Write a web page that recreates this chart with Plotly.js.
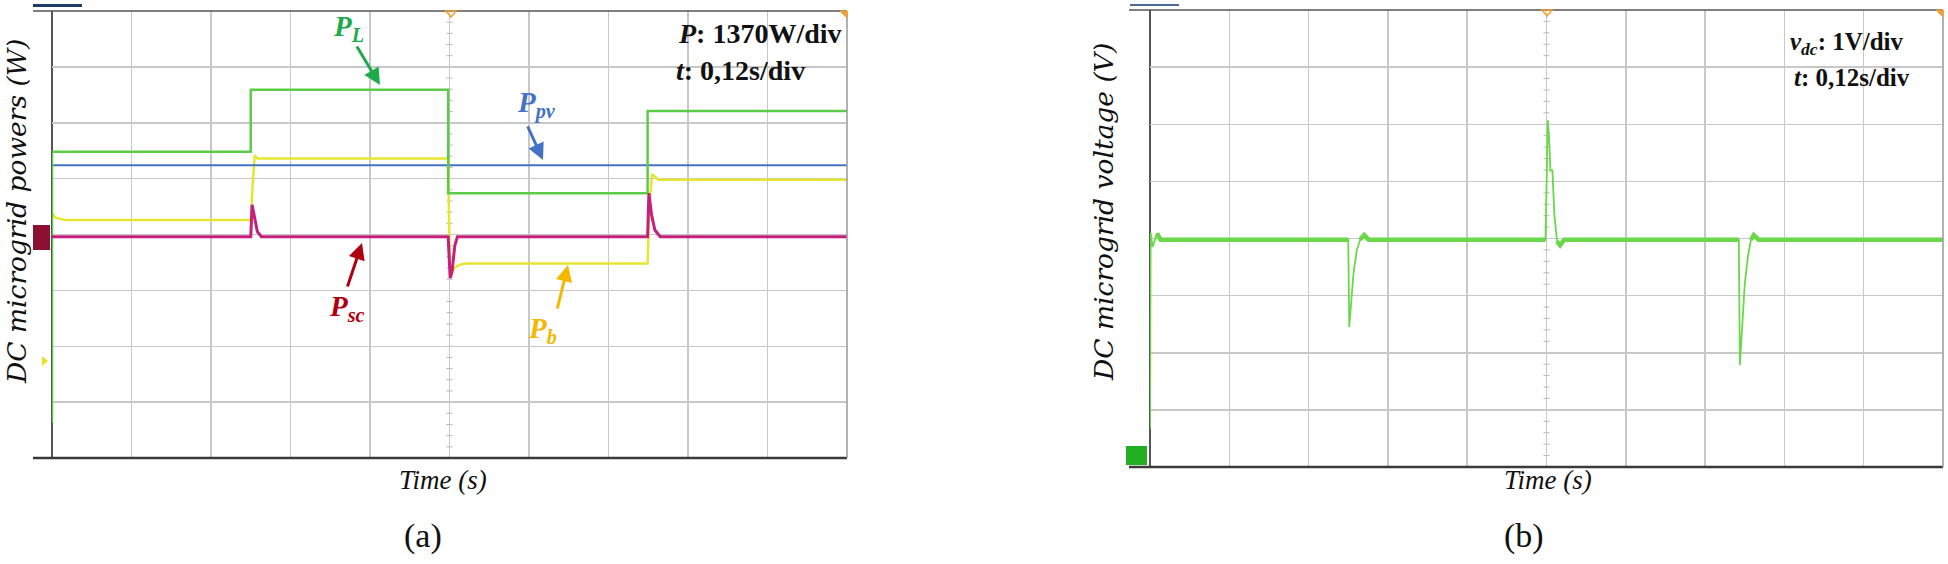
<!DOCTYPE html>
<html>
<head>
<meta charset="utf-8">
<script src="https://cdn.plot.ly/plotly-3.0.1.min.js"></script>
<style>
  html, body { margin: 0; padding: 0; background: #fff; }
  #chart { width: 1948px; height: 564px; }
</style>
</head>
<body>
<div id="chart"></div>
<script>
// scope settings
const T_DIV = 0.12;   // s/div, both panels
const P_DIV = 1370;   // W/div, panel (a)
const V_DIV = 1;      // V/div, panel (b)

// (a) load power P_L
const tL = [0, 0, 0.300, 0.300, 0.598, 0.598, 0.899, 0.899, 1.2];
const pL = [863, 7508, 7508, 9028, 9028, 6494, 6494, 8508, 8508];

// (a) PV power P_pv
const tPv = [0, 1.2];
const pPv = [7179, 7179];

// (a) battery power P_b
const tB = [0, 0.005, 0.020, 0.300, 0.303, 0.306, 0.310, 0.598, 0.600, 0.602, 0.607, 0.615, 0.625, 0.899, 0.902, 0.906, 0.915, 1.2];
const pB = [6001, 5891, 5836, 5836, 6713, 7425, 7343, 7343, 5206, 4439, 4658, 4740, 4768, 4768, 6302, 6960, 6823, 6823];

// (a) supercapacitor power P_sc
const tSc = [0, 0.300, 0.302, 0.306, 0.310, 0.316, 0.598, 0.601, 0.604, 0.608, 0.612, 0.899, 0.901, 0.905, 0.910, 0.918, 1.2];
const pSc = [5425, 5425, 6206, 5823, 5549, 5425, 5425, 4411, 4590, 5206, 5425, 5425, 6494, 5960, 5590, 5425, 5425];

// (b) DC bus voltage v_dc
const tV = [0, 0.001, 0.004, 0.0106, 0.016, 0.020, 0.300, 0.3015, 0.304, 0.308, 0.313, 0.318, 0.324, 0.331,
            0.5985, 0.602, 0.604, 0.606, 0.609, 0.612, 0.616, 0.6206, 0.627,
            0.891, 0.8926, 0.896, 0.900, 0.905, 0.9095, 0.9137, 0.921, 1.2];
const vDc = [0.67, 4.10, 3.85, 4.09, 3.98, 3.98, 3.98, 2.45, 2.85, 3.40, 3.80, 3.98, 4.06, 3.98,
             3.98, 6.07, 5.75, 5.19, 5.19, 4.40, 3.95, 3.88, 3.98,
             3.98, 1.78, 2.50, 3.20, 3.70, 3.98, 4.06, 3.98, 3.98];
const V_STEADY = 3.98;

const W = 1948, H = 564;
const px = x => x / W;
const py = y => 1 - y / H;

const frameA = { l: 52, r: 847, t: 11, b: 458, ext: 33 };
const frameB = { l: 1150, r: 1943, t: 10, b: 467, ext: 1129 };

const SERIF = "Liberation Serif, Times New Roman, serif";
const MATH = "DejaVu Serif, serif";

function seg(x0, y0, x1, y1, color, width, layer) {
  return { type: "line", xref: "paper", yref: "paper",
    x0: px(x0), y0: py(y0), x1: px(x1), y1: py(y1),
    line: { color: color, width: width }, layer: layer || "above" };
}

function frameShapes(f) {
  return [
    seg(f.ext, f.t, f.r, f.t, "#555", 1.5),
    seg(f.ext, f.b, f.r, f.b, "#3a3a3a", 2.5),
    seg(f.l, f.t, f.l, f.b, "#555", 2, "below"),   // trace start stays visible on top
    seg(f.r, f.t, f.r, f.b, "#999", 1.5),
  ];
}

function triDown(xc, ytop, s, color, fill) {
  return { type: "path", xref: "paper", yref: "paper",
    path: `M ${px(xc - s)},${py(ytop)} L ${px(xc + s)},${py(ytop)} L ${px(xc)},${py(ytop + s * 1.2)} Z`,
    line: { color: color, width: 1.5 }, fillcolor: fill, layer: "above" };
}

function cornerTri(xr, yt, s) {
  return { type: "path", xref: "paper", yref: "paper",
    path: `M ${px(xr - s)},${py(yt)} L ${px(xr)},${py(yt)} L ${px(xr)},${py(yt + s)} Z`,
    line: { color: "#f0a030", width: 1 }, fillcolor: "#f0a030", layer: "above" };
}

// little ticks on the centre graticule line
function centreTicks(xa, ya, xMid, yDiv) {
  const out = [];
  for (let k = 1; k < 40; k++) {
    out.push({ type: "line", xref: xa, yref: ya, xsizemode: "pixel", xanchor: xMid,
      x0: -3, x1: 3, y0: k * 0.2 * yDiv, y1: k * 0.2 * yDiv,
      line: { color: "#b5b5b5", width: 1 }, layer: "below" });
  }
  return out;
}

const shapes = [
  ...frameShapes(frameA),
  ...frameShapes(frameB),
  ...centreTicks("x", "y", 5 * T_DIV, P_DIV),
  ...centreTicks("x2", "y2", 5 * T_DIV, V_DIV),
  seg(33, 5.5, 82, 5.5, "#1d3d66", 3),
  seg(1130, 5, 1179, 5, "#4a6a9a", 2),
  triDown(451, 11, 5, "#f0a030", "rgba(0,0,0,0)"),
  triDown(1547, 10, 5, "#f0a030", "rgba(0,0,0,0)"),
  cornerTri(847, 11, 7),
  cornerTri(1943, 10, 7),
  // channel markers
  { type: "rect", xref: "paper", yref: "paper", x0: px(33), x1: px(50), y0: py(250), y1: py(225),
    fillcolor: "#8c1030", line: { width: 0 }, layer: "above" },
  { type: "path", xref: "paper", yref: "paper",
    path: `M ${px(42)},${py(356)} L ${px(48)},${py(361)} L ${px(42)},${py(366)} Z`,
    fillcolor: "#e8e020", line: { width: 0 }, layer: "above" },
  { type: "rect", xref: "paper", yref: "paper", x0: px(1126), x1: px(1147), y0: py(465), y1: py(446),
    fillcolor: "#22b022", line: { width: 0 }, layer: "above" },
];

const gridAxis = { showgrid: true, gridcolor: "#c8c8c8", gridwidth: 1.5, zeroline: false,
  showline: false, showticklabels: false, ticks: "", fixedrange: true };

const vSteadyOnly = vDc.map(v => (Math.abs(v - V_STEADY) < 0.12 ? v : null));

const traces = [
  { x: tB, y: pB, xaxis: "x", yaxis: "y", type: "scatter", mode: "lines",
    line: { color: "#e6e632", width: 2.5 }, name: "P_b" },
  { x: tPv, y: pPv, xaxis: "x", yaxis: "y", type: "scatter", mode: "lines",
    line: { color: "#4472c4", width: 2 }, name: "P_pv" },
  { x: tL, y: pL, xaxis: "x", yaxis: "y", type: "scatter", mode: "lines",
    line: { color: "#5ccc48", width: 2.5 }, name: "P_L" },
  { x: tSc, y: pSc, xaxis: "x", yaxis: "y", type: "scatter", mode: "lines",
    line: { color: "#c4207c", width: 3 }, name: "P_sc" },
  { x: tV, y: vDc, xaxis: "x2", yaxis: "y2", type: "scatter", mode: "lines",
    line: { color: "#6ad84a", width: 1.8 }, name: "v_dc" },
  { x: tV, y: vSteadyOnly, xaxis: "x2", yaxis: "y2", type: "scatter", mode: "lines",
    line: { color: "#6ad84a", width: 4.5 }, connectgaps: false, name: "v_dc band" },
];

function label(x, y, html, color, size, anchor) {
  return { xref: "paper", yref: "paper", x: px(x), y: py(y), text: html, showarrow: false,
    xanchor: anchor || "left", yanchor: "middle", font: { family: SERIF, size: size, color: color } };
}

function arrow(tx, ty, hx, hy, color) {
  return { xref: "paper", yref: "paper", x: px(hx), y: py(hy), ax: tx - hx, ay: ty - hy,
    axref: "pixel", ayref: "pixel", text: "", showarrow: true, arrowhead: 2, arrowsize: 1.1,
    arrowwidth: 3, arrowcolor: color, standoff: 0, startstandoff: 0 };
}

function yTitle(x, y, txt) {
  return { xref: "paper", yref: "paper", x: px(x), y: py(y), text: "<i>" + txt + "</i>",
    textangle: -90, showarrow: false, xanchor: "center", yanchor: "middle",
    font: { family: MATH, size: 26.5, color: "#111" } };
}

const annotations = [
  label(331, 28, "<b><i>P</i></b><sub><b><i>L</i></b></sub>", "#1fab4c", 29),
  arrow(356, 45, 380, 85, "#1fab4c"),
  label(515, 104, "<b><i>P</i></b><sub><b><i>pv</i></b></sub>", "#4472c4", 29),
  arrow(527, 125, 543, 160, "#4472c4"),
  label(327, 308, "<b><i>P</i></b><sub><b><i>sc</i></b></sub>", "#b00010", 29),
  arrow(347, 288, 362, 243, "#b00010"),
  label(526, 330, "<b><i>P</i></b><sub><b><i>b</i></b></sub>", "#f5b800", 29),
  arrow(557, 310, 568, 265, "#f5b800"),

  label(676, 33, "<b><i>P</i>: 1370W/div</b>", "#111", 28),
  label(674, 70, "<b><i>t</i>: 0,12s/div</b>", "#111", 28),
  label(1788, 43, "<b><i>v</i></b><sub><b><i>dc</i></b></sub><b>: 1V/div</b>", "#111", 25),
  label(1792, 77, "<b><i>t</i>: 0,12s/div</b>", "#111", 25),

  yTitle(16, 212, "DC microgrid powers (W)"),
  yTitle(1103, 212, "DC microgrid voltage (V)"),
  label(443, 480, "<i>Time (s)</i>", "#111", 27, "center"),
  label(1548, 480, "<i>Time (s)</i>", "#111", 27, "center"),
  label(423, 536, "(a)", "#111", 34, "center"),
  label(1524, 536, "(b)", "#111", 34, "center"),
];

const layout = {
  width: W, height: H,
  margin: { l: 0, r: 0, t: 0, b: 0 },
  paper_bgcolor: "#fff", plot_bgcolor: "#fff",
  showlegend: false,
  xaxis: { ...gridAxis, domain: [px(frameA.l), px(frameA.r)], range: [0, 10 * T_DIV], dtick: T_DIV, tick0: 0 },
  yaxis: { ...gridAxis, domain: [py(frameA.b), py(frameA.t)], range: [0, 8 * P_DIV], dtick: P_DIV, tick0: 0 },
  xaxis2: { ...gridAxis, anchor: "y2", domain: [px(frameB.l), px(frameB.r)], range: [0, 10 * T_DIV], dtick: T_DIV, tick0: 0 },
  yaxis2: { ...gridAxis, anchor: "x2", domain: [py(frameB.b), py(frameB.t)], range: [0, 8 * V_DIV], dtick: V_DIV, tick0: 0 },
  shapes: shapes,
  annotations: annotations,
};

Plotly.newPlot("chart", traces, layout, { staticPlot: true, displayModeBar: false });
</script>
</body>
</html>
